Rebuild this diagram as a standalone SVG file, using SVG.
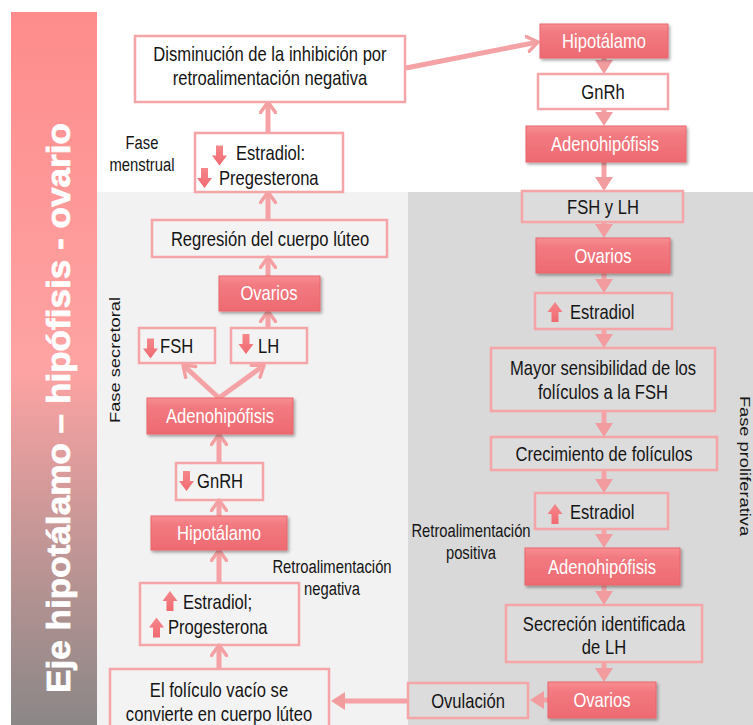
<svg xmlns="http://www.w3.org/2000/svg" width="753" height="725" viewBox="0 0 753 725">
<defs>
<linearGradient id="bg" x1="0" y1="0" x2="0" y2="1">
<stop offset="0" stop-color="#fe8c8c"/>
<stop offset="0.5" stop-color="#fea3a3"/>
<stop offset="0.72" stop-color="#c89797"/>
<stop offset="1" stop-color="#8b8787"/>
</linearGradient>
<linearGradient id="pg" x1="0" y1="0" x2="0" y2="1">
<stop offset="0" stop-color="#f78f93"/>
<stop offset="0.25" stop-color="#f27a80"/>
<stop offset="1" stop-color="#ee6a71"/>
</linearGradient>
<linearGradient id="ig" x1="0" y1="0" x2="0" y2="1">
<stop offset="0" stop-color="#f5878b"/>
<stop offset="1" stop-color="#f06a70"/>
</linearGradient>
<filter id="sh" x="-10%" y="-25%" width="125%" height="160%">
<feDropShadow dx="1.5" dy="2" stdDeviation="1.5" flood-color="#000" flood-opacity="0.35"/>
</filter>
<marker id="ch" markerUnits="userSpaceOnUse" markerWidth="14" markerHeight="18" viewBox="0 0 14 18" refX="9" refY="9" orient="auto">
<path d="M1.5,1.5 L12,9 L1.5,16.5" fill="none" stroke="#f4a0a3" stroke-width="3.5" stroke-linecap="round" stroke-linejoin="round"/>
</marker>
<marker id="tri" markerUnits="userSpaceOnUse" markerWidth="14" markerHeight="18" viewBox="0 0 14 18" refX="6" refY="9" orient="auto">
<path d="M0,0 L14,9 L0,18 Z" fill="#f39ca0"/>
</marker>
<path id="dn" d="M-3.5,-10 H3.5 V0 H7.5 L0,10 L-7.5,0 H-3.5 Z" fill="url(#ig)"/>
<path id="up" d="M-3.5,10 H3.5 V0 H7.5 L0,-10 L-7.5,0 H-3.5 Z" fill="url(#ig)"/>
<style>
.bw{fill:#fff;stroke:#f5a5a7;stroke-width:2.5}
.bt{fill:#fff;fill-opacity:0.1;stroke:#f5a5a7;stroke-width:2.5}
.bp{fill:url(#pg);stroke:#e9666c;stroke-width:1;filter:url(#sh)}
.t{font-family:"Liberation Sans",Arial,sans-serif;font-size:16.6px;fill:#151515;text-anchor:middle}
.tw{fill:#fff}
.ts{text-anchor:start}
.l{font-size:14.8px}
.v{font-family:"Liberation Sans",Arial,sans-serif;font-size:18.3px;fill:#151515;text-anchor:middle}
.ar{stroke:#f4a2a5;stroke-width:5;fill:none}
</style>
</defs>
<rect x="0" y="0" width="753" height="725" fill="#fff"/>
<rect x="97" y="192" width="311" height="533" fill="#f2f2f2"/>
<rect x="408" y="192" width="345" height="533" fill="#d9d9d9"/>
<g id="banner">
<rect x="11" y="12" width="86" height="713" fill="url(#bg)"/>
<text transform="translate(70,408) rotate(-90) scale(1,0.85)" font-family="'Liberation Sans',Arial,sans-serif" font-weight="bold" font-size="40" fill="#fff" stroke="#fff" stroke-width="0.8" text-anchor="middle" textLength="570" lengthAdjust="spacingAndGlyphs">Eje hipotálamo – hipófisis - ovario</text>
</g>
<g id="labels">
<text class="t l" transform="translate(142,149) scale(1,1.18)">Fase</text>
<text class="t l" transform="translate(142,171) scale(1,1.18)">menstrual</text>
<text class="t l" transform="translate(332,573) scale(1,1.18)">Retroalimentación</text>
<text class="t l" transform="translate(332,595) scale(1,1.18)">negativa</text>
<text class="t l" transform="translate(471,537) scale(1,1.18)">Retroalimentación</text>
<text class="t l" transform="translate(471,559) scale(1,1.18)">positiva</text>
<text class="v" transform="translate(120,360) rotate(-90) scale(1,0.85)">Fase secretoral</text>
<text class="v" transform="translate(740,466) rotate(90) scale(1,0.85)">Fase proliferativa</text>
</g>
<g id="connectors">
<line class="ar" x1="219" y1="669" x2="219" y2="648" marker-end="url(#ch)"/>
<line class="ar" x1="219" y1="583" x2="219" y2="553" marker-end="url(#ch)"/>
<line class="ar" x1="219" y1="516" x2="219" y2="503" marker-end="url(#ch)"/>
<line class="ar" x1="219" y1="463" x2="219" y2="437" marker-end="url(#ch)"/>
<line class="ar" x1="219" y1="398" x2="185.2" y2="367" marker-end="url(#ch)"/>
<line class="ar" x1="219" y1="398" x2="261.6" y2="367" marker-end="url(#ch)"/>
<line class="ar" x1="268" y1="328" x2="268" y2="314" marker-end="url(#ch)"/>
<line class="ar" x1="268" y1="276" x2="268" y2="260" marker-end="url(#ch)"/>
<line class="ar" x1="268" y1="220" x2="268" y2="195" marker-end="url(#ch)"/>
<line class="ar" x1="268" y1="133" x2="268" y2="105" marker-end="url(#ch)"/>
<line class="ar" x1="406" y1="68" x2="535" y2="42.6" marker-end="url(#ch)"/>
<line class="ar" x1="604" y1="58" x2="604" y2="66" marker-end="url(#tri)"/>
<line class="ar" x1="604" y1="109" x2="604" y2="118" marker-end="url(#tri)"/>
<line class="ar" x1="604" y1="162" x2="604" y2="183" marker-end="url(#tri)"/>
<line class="ar" x1="604" y1="222" x2="604" y2="230" marker-end="url(#tri)"/>
<line class="ar" x1="604" y1="273" x2="604" y2="285" marker-end="url(#tri)"/>
<line class="ar" x1="604" y1="329" x2="604" y2="340" marker-end="url(#tri)"/>
<line class="ar" x1="604" y1="411" x2="604" y2="429" marker-end="url(#tri)"/>
<line class="ar" x1="604" y1="470" x2="604" y2="485" marker-end="url(#tri)"/>
<line class="ar" x1="604" y1="529" x2="604" y2="540" marker-end="url(#tri)"/>
<line class="ar" x1="604" y1="585" x2="604" y2="597" marker-end="url(#tri)"/>
<line class="ar" x1="604" y1="662" x2="604" y2="674" marker-end="url(#tri)"/>
<line class="ar" x1="548" y1="700" x2="538" y2="700" marker-end="url(#tri)"/>
<line class="ar" x1="408" y1="701" x2="339" y2="701" marker-end="url(#tri)"/>
</g>
<g id="n-disminucion">
<rect class="bw" x="135" y="36" width="270" height="66"/>
<text class="t" transform="translate(270,61) scale(1,1.18)">Disminución de la inhibición por<tspan x="0" dy="20.5">retroalimentación negativa</tspan></text>
</g>
<g id="n-estradiol-baja">
<rect class="bw" x="195" y="133" width="148" height="59"/>
<use href="#dn" x="219.5" y="155.5"/>
<use href="#dn" x="204.5" y="178"/>
<text class="t ts" transform="translate(236,160) scale(1,1.18)">Estradiol:</text>
<text class="t ts" transform="translate(219,185) scale(1,1.18)">Pregesterona</text>
</g>
<g id="n-regresion">
<rect class="bt" x="152" y="220" width="235" height="37"/>
<text class="t" transform="translate(270,246) scale(1,1.18)">Regresión del cuerpo lúteo</text>
</g>
<g id="n-ovarios-izq">
<rect class="bp" x="219" y="276" width="101" height="35"/>
<text class="t tw" transform="translate(269,300) scale(1,1.18)">Ovarios</text>
</g>
<g id="n-fsh">
<rect class="bt" x="139" y="328" width="76" height="35"/>
<use href="#dn" x="150.5" y="348.5"/>
<text class="t ts" transform="translate(160,353) scale(1,1.18)">FSH</text>
</g>
<g id="n-lh">
<rect class="bt" x="231" y="328" width="76" height="35"/>
<use href="#dn" x="246" y="344"/>
<text class="t ts" transform="translate(258,353) scale(1,1.18)">LH</text>
</g>
<g id="n-adeno-izq">
<rect class="bp" x="147" y="398" width="146" height="36"/>
<text class="t tw" transform="translate(220,423) scale(1,1.18)">Adenohipófisis</text>
</g>
<g id="n-gnrh-izq">
<rect class="bt" x="176" y="463" width="87" height="37"/>
<use href="#dn" x="186.5" y="481"/>
<text class="t ts" transform="translate(197,488) scale(1,1.18)">GnRH</text>
</g>
<g id="n-hipotalamo-izq">
<rect class="bp" x="151" y="516" width="136" height="34"/>
<text class="t tw" transform="translate(219,540) scale(1,1.18)">Hipotálamo</text>
</g>
<g id="n-estradiol-alta">
<rect class="bt" x="140" y="583" width="159" height="62"/>
<use href="#up" x="170" y="601"/>
<use href="#up" x="156.5" y="627.5"/>
<text class="t ts" transform="translate(183,609) scale(1,1.18)">Estradiol;</text>
<text class="t ts" transform="translate(168,634) scale(1,1.18)">Progesterona</text>
</g>
<g id="n-foliculo">
<rect class="bt" x="110" y="669" width="219" height="60"/>
<text class="t" transform="translate(219,697) scale(1,1.18)">El folículo vacío se<tspan x="0" dy="20.3">convierte en cuerpo lúteo</tspan></text>
</g>
<g id="n-hipotalamo-der">
<rect class="bp" x="540" y="24" width="128" height="34"/>
<text class="t tw" transform="translate(604,48) scale(1,1.18)">Hipotálamo</text>
</g>
<g id="n-gnrh-der">
<rect class="bw" x="538" y="74" width="130" height="35"/>
<text class="t" transform="translate(603,98.5) scale(1,1.18)">GnRh</text>
</g>
<g id="n-adeno-der1">
<rect class="bp" x="526" y="126" width="160" height="36"/>
<text class="t tw" transform="translate(605,151) scale(1,1.18)">Adenohipófisis</text>
</g>
<g id="n-fsh-lh">
<rect class="bt" x="522" y="191" width="161" height="31"/>
<text class="t" transform="translate(603,213.5) scale(1,1.18)">FSH y LH</text>
</g>
<g id="n-ovarios-der1">
<rect class="bp" x="536" y="238" width="134" height="35"/>
<text class="t tw" transform="translate(603,262.5) scale(1,1.18)">Ovarios</text>
</g>
<g id="n-estradiol-der1">
<rect class="bt" x="535" y="293" width="137" height="36"/>
<use href="#up" x="555" y="312"/>
<text class="t ts" transform="translate(570,319) scale(1,1.18)">Estradiol</text>
</g>
<g id="n-sensibilidad">
<rect class="bt" x="491" y="348" width="224" height="63"/>
<text class="t" transform="translate(603,375) scale(1,1.18)">Mayor sensibilidad de los<tspan x="0" dy="20.3">folículos a la FSH</tspan></text>
</g>
<g id="n-crecimiento">
<rect class="bt" x="491" y="437" width="226" height="33"/>
<text class="t" transform="translate(604,460.5) scale(1,1.18)">Crecimiento de folículos</text>
</g>
<g id="n-estradiol-der2">
<rect class="bt" x="535" y="493" width="133" height="36"/>
<use href="#up" x="555" y="514"/>
<text class="t ts" transform="translate(570,519) scale(1,1.18)">Estradiol</text>
</g>
<g id="n-adeno-der2">
<rect class="bp" x="525" y="548" width="155" height="37"/>
<text class="t tw" transform="translate(602,573.5) scale(1,1.18)">Adenohipófisis</text>
</g>
<g id="n-secrecion">
<rect class="bt" x="506" y="605" width="196" height="57"/>
<text class="t" transform="translate(604,631) scale(1,1.18)">Secreción identificada<tspan x="0" dy="19.5">de LH</tspan></text>
</g>
<g id="n-ovarios-der2">
<rect class="bp" x="548" y="682" width="108" height="36"/>
<text class="t tw" transform="translate(602,707) scale(1,1.18)">Ovarios</text>
</g>
<g id="n-ovulacion">
<rect class="bt" x="408" y="683" width="120" height="35"/>
<text class="t" transform="translate(468,708) scale(1,1.18)">Ovulación</text>
</g>
</svg>
